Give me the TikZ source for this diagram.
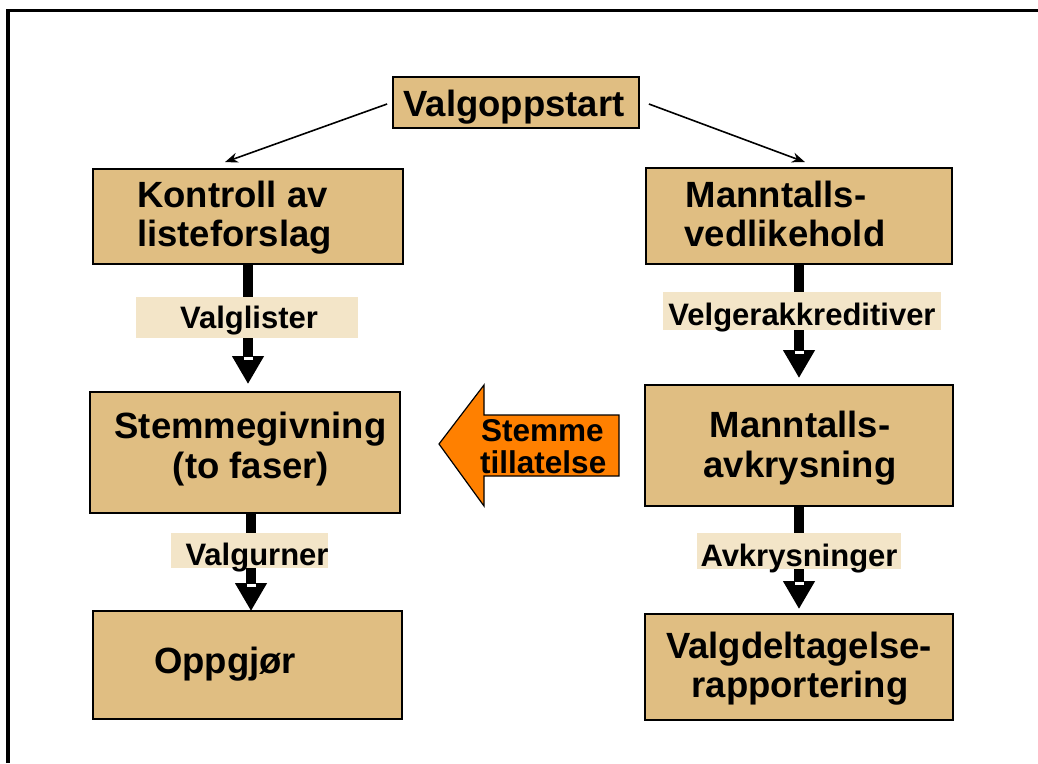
\documentclass[tikz,border=0pt]{standalone}
\usepackage{fontspec}
\setmainfont{Liberation Sans}
\usetikzlibrary{arrows.meta,calc}
\definecolor{boxtan}{RGB}{224,190,130}
\definecolor{labelbg}{RGB}{243,229,200}
\definecolor{flagorange}{RGB}{255,128,0}
\begin{document}
\begin{tikzpicture}[x=1pt,y=-1pt,
  stagebox/.style={draw=black,line width=1.8pt,fill=boxtan,inner sep=0pt},
  boxtext/.style={font=\fontsize{36.5}{40}\selectfont\bfseries,inner sep=0pt,anchor=base},
  flowtext/.style={font=\fontsize{31}{34}\selectfont\bfseries,inner sep=0pt,anchor=base},
  labelbox/.style={fill=labelbg,inner sep=0pt},
  fatflow/.style={line width=10.5pt,-{Triangle[width=30pt,length=28pt]}},
  thinflow/.style={line width=1.6pt,-{Stealth[length=13pt,width=10pt]}},
  gapmark/.style={fill=white}]
\useasboundingbox (0,0) rectangle (1038,763);

% outer frame (top and left edges)
\draw[line width=3.5pt] (8,763) -- (8,10.7) -- (1038,10.7);

% stage boxes
\node[stagebox,minimum width=246pt,minimum height=51pt] (vs) at (516,102.5) {};
\node[stagebox,minimum width=310pt,minimum height=95pt] (kl) at (248,216.5) {};
\node[stagebox,minimum width=306pt,minimum height=96pt] (mv) at (799,216) {};
\node[stagebox,minimum width=310pt,minimum height=121pt] (sg) at (245,452.5) {};
\node[stagebox,minimum width=308pt,minimum height=121pt] (ma) at (799,445.5) {};
\node[stagebox,minimum width=309pt,minimum height=108pt] (op) at (247.5,665) {};
\node[stagebox,minimum width=308pt,minimum height=106pt] (vr) at (799,667) {};

% box texts
\node[boxtext] (vs-t) at (514,116) {Valgoppstart};
\node[boxtext] (kl-t1) at (232.5,207) {Kontroll av};
\node[boxtext] (kl-t2) at (234.5,246) {listeforslag};
\node[boxtext] (mv-t1) at (776,207) {Manntalls-};
\node[boxtext] (mv-t2) at (785,246) {vedlikehold};
\node[boxtext] (sg-t1) at (250.5,438) {Stemmegivning};
\node[boxtext] (sg-t2) at (251,478) {(to faser)};
\node[boxtext] (ma-t1) at (800,437) {Manntalls-};
\node[boxtext] (ma-t2) at (800,477) {avkrysning};
\node[boxtext] (op-t) at (225,673) {Oppgjør};
\node[boxtext] (vr-t1) at (799,658) {Valgdeltagelse-};
\node[boxtext] (vr-t2) at (800,697) {rapportering};

% thin arrows from the start box
\draw[thinflow] ($(vs.west)+(-5,1.5)$) -- ($(kl.north)+(-23,-6)$);
\draw[thinflow] ($(vs.east)+(9,1.5)$) -- ($(mv.north)+(6,-5)$);

% thick flow arrows
\coordinate (a1s) at (kl.south);
\coordinate (a1e) at ($(kl.south |- sg.north)+(0,-7)$);
\draw[fatflow] (a1s) -- (a1e);
\coordinate (a2s) at (mv.south);
\coordinate (a2e) at ($(mv.south |- ma.north)+(0,-6)$);
\draw[fatflow] (a2s) -- (a2e);
\coordinate (a3s) at ($(sg.south)+(6,0)$);
\coordinate (a3e) at ($(sg.south |- op.north)+(6,1)$);
\draw[fatflow] (a3s) -- (a3e);
\coordinate (a4s) at (ma.south);
\coordinate (a4e) at ($(ma.south |- vr.north)+(0,-4)$);
\draw[fatflow] (a4s) -- (a4e);

% small white marks at the base of each arrow head
\foreach \t in {a1e,a2e,a3e,a4e}{
  \fill[gapmark] ($(\t)+(-4.5,-27.5)$) rectangle ++(9,3);
}

% flow labels
\node[labelbox,minimum width=222pt,minimum height=41pt] (l1) at (247,317.5) {};
\node[flowtext] (l1-t) at (249,328) {Valglister};
\node[labelbox,minimum width=278pt,minimum height=38pt] (l2) at (802,311) {};
\node[flowtext] (l2-t) at (802,325) {Velgerakkreditiver};
\node[labelbox,minimum width=157pt,minimum height=35pt] (l3) at (249.5,550.5) {};
\node[flowtext] (l3-t) at (257,565) {Valgurner};
\node[labelbox,minimum width=204pt,minimum height=36pt] (l4) at (799,551) {};
\node[flowtext] (l4-t) at (799,566) {Avkrysninger};

% permission arrow between the two middle boxes
\draw[fill=flagorange,line width=1.2pt,line join=miter]
  (439,444) -- (484,385) -- (484,415) -- (619,415) -- (619,476)
  -- (484,476) -- (484,506) -- cycle;
\node[flowtext,anchor=base west,font=\fontsize{31.5}{34}\selectfont\bfseries] (st-t1) at (481,441) {Stemme};
\node[flowtext,anchor=base west,font=\fontsize{31.5}{34}\selectfont\bfseries] (st-t2) at (480,473) {tillatelse};
\end{tikzpicture}
\end{document}
